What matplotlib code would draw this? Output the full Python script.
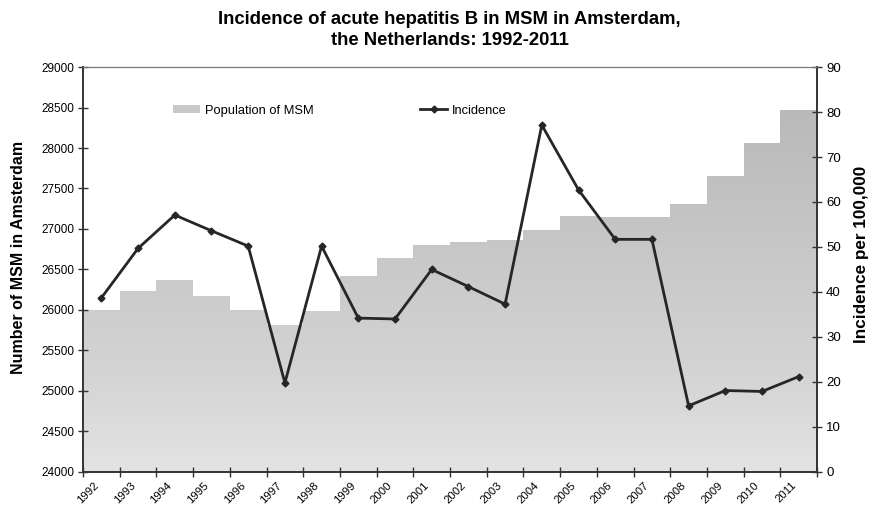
import numpy as np
import matplotlib
matplotlib.use("Agg")
import matplotlib.pyplot as plt
import matplotlib.transforms as mtransforms
from matplotlib.patches import Patch
from matplotlib.lines import Line2D
from matplotlib.path import Path
from matplotlib.patches import PathPatch
from matplotlib.colors import LinearSegmentedColormap

plt.rcParams['font.family'] = ['Liberation Sans', 'DejaVu Sans']

# --- data ---
years = [str(y) for y in range(1992, 2012)]
population = [26000, 26240, 26370, 26170, 26000, 25820, 25990, 26420, 26640, 26800,
              26840, 26870, 26990, 27160, 27150, 27150, 27310, 27650, 28060, 28470]
incidence = [38.7, 49.7, 57.1, 53.6, 50.2, 19.8, 50.2, 34.2, 34.0, 45.0,
             41.2, 37.3, 77.1, 62.7, 51.7, 51.7, 14.7, 18.1, 17.9, 21.2]

pop_ticks = list(range(24000, 29001, 500))
inc_ticks = list(range(0, 91, 10))

fig = plt.figure(figsize=(8.75, 5.08), dpi=100)
ax = fig.add_axes([0.0949, 0.0709, 0.8389, 0.7972])
ax2 = ax.twinx()

x = np.arange(len(years))

# bars (invisible), gradient drawn through them as a clip path
bars = ax.bar(x, np.array(population) - 24000, bottom=24000, width=1.0,
              color='none', edgecolor='none')
verts, codes = [], []
for b in bars:
    x0, y0 = b.get_x(), b.get_y()
    w, h = b.get_width(), b.get_height()
    verts += [(x0, y0), (x0 + w, y0), (x0 + w, y0 + h), (x0, y0 + h), (x0, y0)]
    codes += [Path.MOVETO, Path.LINETO, Path.LINETO, Path.LINETO, Path.CLOSEPOLY]
clip = PathPatch(Path(verts, codes), facecolor='none', edgecolor='none',
                 transform=ax.transData)
ax.add_patch(clip)

cmap = LinearSegmentedColormap.from_list(
    'fill', [(0.0, (0.89, 0.89, 0.89)), (0.25, (0.83, 0.83, 0.83)),
             (1.0, (0.71, 0.71, 0.71))])
grad = np.linspace(0, 1, 256).reshape(-1, 1)
img = ax.imshow(grad, cmap=cmap, aspect='auto', origin='lower',
                extent=(-0.5, len(years) - 0.5, 24000, 29000), zorder=1,
                interpolation='bilinear')
img.set_clip_path(clip)

ax.set_xlim(-0.5, len(years) - 0.5)
ax.set_ylim(24000, 29000)
ax.set_yticks(pop_ticks)

ax2.plot(x, incidence, color='#262626', lw=2.0, marker='D', markersize=3.5,
         zorder=3)
ax2.set_ylim(0, 90)
ax2.set_yticks(inc_ticks)

# spines and ticks
for a in (ax, ax2):
    for s in ('left', 'right', 'bottom'):
        a.spines[s].set_color('#333333')
        a.spines[s].set_linewidth(1.2)
    a.spines['top'].set_color('#777777')
    a.spines['top'].set_linewidth(0.8)

ax.set_xticks(x)
ax.set_xticklabels(years, rotation=45, ha='right', rotation_mode='anchor',
                   fontsize=8.2)
ax.tick_params(axis='x', which='major', length=0, pad=6)
shift = mtransforms.ScaledTranslation(-8 / 100, 0, fig.dpi_scale_trans)
for lbl in ax.get_xticklabels():
    lbl.set_transform(lbl.get_transform() + shift)
ax.set_xticks(np.arange(-0.5, len(years)), minor=True)
ax.tick_params(axis='x', which='minor', direction='inout', length=7,
               width=1.0, color='#333333')
ax.tick_params(axis='y', direction='inout', length=7, width=1.0,
               color='#333333', labelsize=8.5, pad=3)
ax2.tick_params(axis='y', direction='inout', length=7, width=1.0,
                color='#333333', labelsize=9.5, pad=3)

ax.set_ylabel('Number of MSM in Amsterdam', fontsize=11.5, fontweight='bold')
ax.yaxis.set_label_coords(-0.078, 0.53)
ax2.set_ylabel('Incidence per 100,000', fontsize=12.3, fontweight='bold')
ax2.yaxis.set_label_coords(1.05, 0.538)

fig.text(0.514, 0.941, 'Incidence of acute hepatitis B in MSM in Amsterdam,\n'
         'the Netherlands: 1992-2011', ha='center', va='center',
         fontsize=13.3, fontweight='bold', linespacing=1.32)

handles = [Patch(facecolor='#c8c8c8', edgecolor='none'),
           Line2D([], [], color='#262626', lw=2.0, marker='D', markersize=3.5)]
ax2.legend(handles, ['Population of MSM', 'Incidence'], ncol=2, frameon=False,
           loc='center left', bbox_to_anchor=(0.107, 0.892), fontsize=9.3,
           handlelength=2.1, handleheight=0.6, handletextpad=0.4,
           columnspacing=8.2)

fig.savefig('out.png', dpi=100)
